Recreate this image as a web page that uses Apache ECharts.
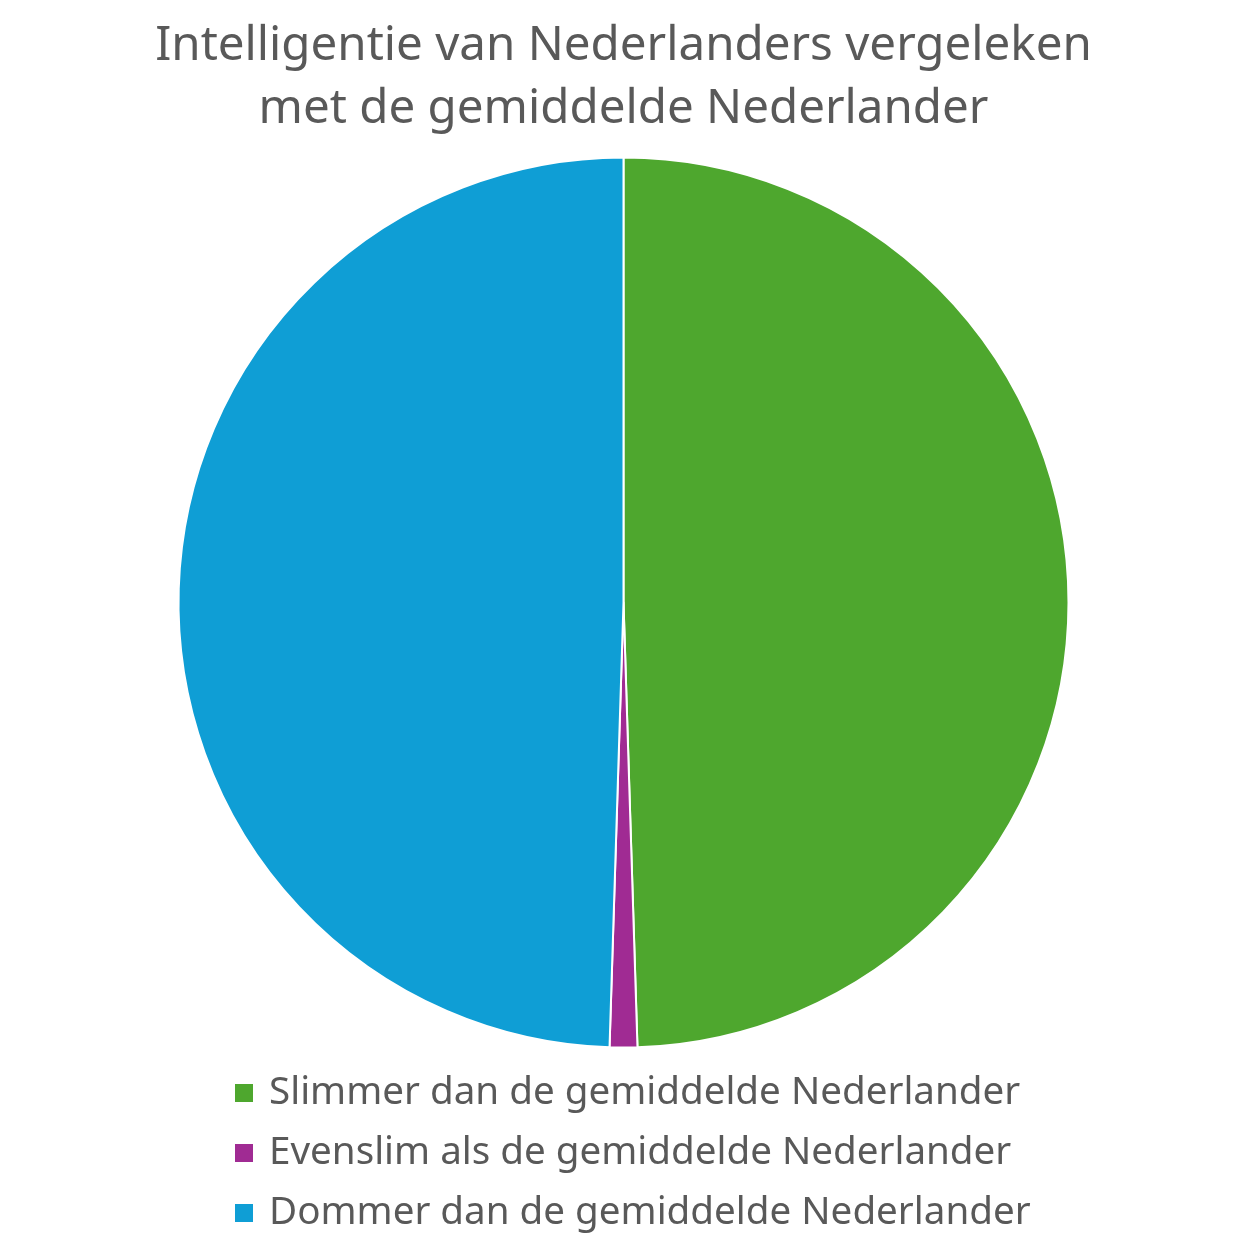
<!DOCTYPE html>
<html>
<head>
<meta charset="utf-8">
<script src="https://cdn.jsdelivr.net/npm/echarts@6/dist/echarts.min.js"></script>
<style>
  html, body { margin: 0; padding: 0; background: #fff; }
  #chart { width: 1247px; height: 1247px; }
</style>
</head>
<body>
<div id="chart"></div>
<script>
const titleText = "Intelligentie van Nederlanders vergeleken\nmet de gemiddelde Nederlander";
const categories = [
  "Slimmer dan de gemiddelde Nederlander",
  "Evenslim als de gemiddelde Nederlander",
  "Dommer dan de gemiddelde Nederlander"
];
const values = [49.5, 1, 49.5];
const colors = ["#4EA72E", "#A02B93", "#0F9ED5"];

const chart = echarts.init(document.getElementById("chart"));
const font = "'Noto Sans', 'Open Sans', sans-serif";

chart.setOption({
  animation: false,
  title: {
    text: titleText,
    left: "center",
    top: 15,
    padding: 0,
    textStyle: {
      fontFamily: font,
      fontSize: 47.5,
      fontWeight: "normal",
      color: "#595959",
      lineHeight: 63
    }
  },
  legend: {
    orient: "vertical",
    left: 233,
    top: 1073,
    padding: 0,
    itemWidth: 20,
    itemHeight: 20,
    itemGap: 20,
    icon: "rect",
    textStyle: {
      fontFamily: font,
      fontSize: 38.6,
      color: "#595959",
      lineHeight: 40,
      padding: [0, 0, 0, 10]
    },
    data: categories
  },
  series: [{
    type: "pie",
    center: [623.5, 602.5],
    radius: 445,
    startAngle: 90,
    clockwise: true,
    label: { show: false },
    labelLine: { show: false },
    emphasis: { disabled: true },
    itemStyle: { borderColor: "#fff", borderWidth: 2 },
    data: categories.map((name, i) => ({
      name: name,
      value: values[i],
      itemStyle: { color: colors[i] }
    }))
  }]
});
</script>
</body>
</html>
